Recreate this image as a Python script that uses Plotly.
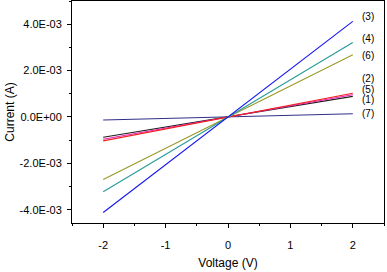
import plotly.graph_objects as go

voltage = [-2, 0, 2]
labels = ["(3)", "(4)", "(6)", "(2)", "(5)", "(1)", "(7)"]
series = {
    "(3)": [-4.12e-3, 0.0, 4.12e-3],
    "(4)": [-3.22e-3, 0.0, 3.21e-3],
    "(6)": [-2.69e-3, 0.0, 2.68e-3],
    "(2)": [-1.03e-3, 0.0, 1.02e-3],
    "(5)": [-0.96e-3, 0.0, 0.96e-3],
    "(1)": [-0.87e-3, 0.0, 0.89e-3],
    "(7)": [-0.13e-3, 0.0, 0.14e-3],
}
colors = {
    "(3)": "#1414f0",
    "(4)": "#2a9a9a",
    "(6)": "#9a9a2a",
    "(2)": "#f02020",
    "(5)": "#ee20b0",
    "(1)": "#202020",
    "(7)": "#303088",
}
label_y = [4.33e-3, 3.40e-3, 2.65e-3, 1.66e-3, 1.20e-3, 0.74e-3, 0.16e-3]
y_tickvals = [-4e-3, -2e-3, 0.0, 2e-3, 4e-3]
y_ticktext = ["-4.0E-03", "-2.0E-03", "0.0E+00", "2.0E-03", "4.0E-03"]
y_minor = [-3e-3, -1e-3, 1e-3, 3e-3, 5e-3]
x_tickvals = [-2, -1, 0, 1, 2]
x_ticktext = ["-2", "-1", "0", "1", "2"]

fig = go.Figure()
for name in ["(7)", "(1)", "(5)", "(2)", "(6)", "(4)", "(3)"]:
    fig.add_trace(go.Scatter(x=voltage, y=series[name], mode="lines",
                             line=dict(color=colors[name], width=1.1),
                             showlegend=False))
for name, ly in zip(labels, label_y):
    fig.add_annotation(x=2.13, y=ly, text=name, showarrow=False,
                       xanchor="left", yanchor="middle", borderpad=0,
                       font=dict(size=10, color="#000000"))

axis_common = dict(showline=True, linecolor="#000000", linewidth=1, mirror=True,
                   ticks="outside", ticklen=4, tickcolor="#000000", showgrid=False,
                   zeroline=False, automargin=False,
                   tickfont=dict(size=11, color="#000000"))
fig.update_xaxes(range=[-2.5, 2.5], tickvals=x_tickvals, ticktext=x_ticktext,
                 ticklabelstandoff=8,
                 minor=dict(dtick=0.5, tick0=0, ticks="outside", ticklen=2, tickcolor="#000000"),
                 title=dict(text="Voltage (V)", font=dict(size=12, color="#000000"), standoff=8),
                 **axis_common)
fig.update_yaxes(range=[-4.57e-3, 5.0e-3], tickvals=y_tickvals, ticktext=y_ticktext,
                 ticklabelstandoff=3,
                 minor=dict(tickvals=y_minor, ticks="outside", ticklen=2, tickcolor="#000000"),
                 title=dict(text="Current (A)", font=dict(size=12, color="#000000"), standoff=2),
                 **axis_common)
fig.update_layout(width=387, height=272, margin=dict(l=72, r=3, t=1, b=49, autoexpand=False),
                  plot_bgcolor="white", paper_bgcolor="white",
                  font=dict(family="Liberation Sans, Arial, sans-serif", color="#000000"))
fig.write_html("out.html", config={"displayModeBar": False},
               post_script="document.body.style.margin='0';document.body.style.padding='0';")
